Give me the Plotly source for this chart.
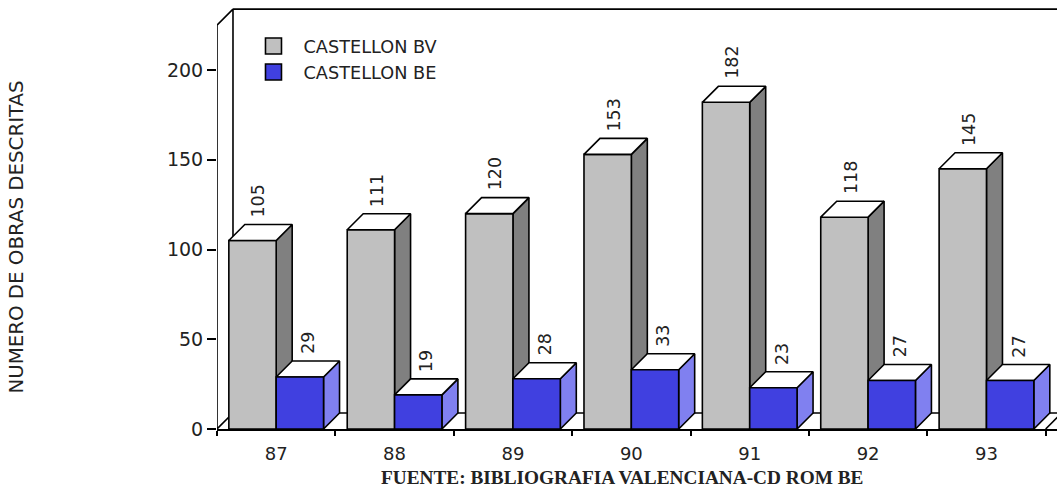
import plotly.graph_objects as go

years = ["87", "88", "89", "90", "91", "92", "93"]
bv = [105, 111, 120, 153, 182, 118, 145]
be = [29, 19, 28, 33, 23, 27, 27]
y_ticks = [0, 50, 100, 150, 200]

W, H = 1057, 488
LEFT, BOTTOM = 216.5, 59
PX_X = 118.45
PX_Y = 1.795
DX = 16 / PX_X
DY = 16 / PX_Y
WALL_TOP = 225
N = len(years)
X_MAX = (W - LEFT) / PX_X
Y_MAX = (H - BOTTOM) / PX_Y
EDGE = dict(color="black", width=1.6)
SANS = "DejaVu Sans"
TXT = "#222222"


def polys(list_of_polys):
    xs, ys = [], []
    for p in list_of_polys:
        for a, b in p + [p[0]]:
            xs.append(a)
            ys.append(b)
        xs.append(None)
        ys.append(None)
    return xs, ys


def faces(values, start):
    front, top, side = [], [], []
    for i, v in enumerate(values):
        a, b = i + start, i + start + 0.4
        front.append([(a, 0), (b, 0), (b, v), (a, v)])
        top.append([(a, v), (b, v), (b + DX, v + DY), (a + DX, v + DY)])
        side.append([(b, 0), (b + DX, DY), (b + DX, v + DY), (b, v)])
    return front, top, side


def add_poly(fig, p, color):
    xs, ys = polys(p)
    fig.add_trace(go.Scatter(x=xs, y=ys, mode="lines", fill="toself", fillcolor=color,
                             line=EDGE, showlegend=False, hoverinfo="skip"))


fig = go.Figure()

# walls and floor
wall_x = [0, DX, DX, 0, 0, None, DX, X_MAX + 1, None, DX, X_MAX + 1, None, N, N + DX]
wall_y = [0, DY, WALL_TOP + DY, WALL_TOP, 0, None, WALL_TOP + DY, WALL_TOP + DY, None, DY, DY, None, 0, DY]
fig.add_trace(go.Scatter(x=wall_x, y=wall_y, mode="lines", line=EDGE, showlegend=False, hoverinfo="skip"))

bv_front, bv_top, bv_side = faces(bv, 0.1)
be_front, be_top, be_side = faces(be, 0.5)
add_poly(fig, bv_side, "#808080")
add_poly(fig, bv_front, "#C0C0C0")
add_poly(fig, bv_top, "#FFFFFF")
add_poly(fig, be_side, "#8080F0")
add_poly(fig, be_top, "#FFFFFF")
add_poly(fig, be_front, "#4040E0")

# legend entries
for name, color in (("CASTELLON BV", "#C0C0C0"), ("CASTELLON BE", "#4040E0")):
    fig.add_trace(go.Scatter(x=[None], y=[None], mode="markers", name=name, legendgroup=name,
                             marker=dict(symbol="square", size=16, color=color,
                                         line=dict(color="black", width=1.6))))

plot_w, plot_h = W - LEFT, H - BOTTOM


def px(x):
    return (x - LEFT) / plot_w


def py(y):
    return (H - BOTTOM - y) / plot_h


annotations = []
for i in range(N):
    for v, start, xs in ((bv[i], 0.3, 6), (be[i], 0.7, 8)):
        annotations.append(dict(x=i + start, y=v + DY, xref="x", yref="y", text=str(v), showarrow=False,
                                textangle=-90, xanchor="center", yanchor="bottom", xshift=xs, yshift=5,
                                font=dict(family=SANS, size=17.5, color=TXT)))
annotations.append(dict(x=px(15), y=py(237), xref="paper", yref="paper", text="NUMERO DE OBRAS DESCRITAS",
                        showarrow=False, textangle=-90, xanchor="center", yanchor="middle",
                        font=dict(family=SANS, size=19.8, color=TXT)))
annotations.append(dict(x=px(622), y=py(477), xref="paper", yref="paper",
                        text="<b>FUENTE: BIBLIOGRAFIA VALENCIANA-CD ROM BE</b>", xanchor="center", yanchor="middle",
                        showarrow=False, font=dict(family="Liberation Serif", size=19.3, color=TXT)))

fig.update_layout(
    width=W, height=H, margin=dict(l=LEFT, r=0, t=0, b=BOTTOM, autoexpand=False),
    plot_bgcolor="white", paper_bgcolor="white", hovermode=False,
    annotations=annotations,
    legend=dict(x=px(243), y=py(28), xanchor="left", yanchor="top",
                bgcolor="rgba(0,0,0,0)", itemwidth=50, tracegroupgap=18, traceorder="normal",
                font=dict(family=SANS, size=17.7, color=TXT)),
    xaxis=dict(range=[0, X_MAX], tickmode="array", tickvals=[i + 0.5 for i in range(N)], ticktext=years,
               ticks="", showgrid=False, zeroline=False, showline=True, linecolor="black", linewidth=1.8,
               ticklabelstandoff=7, tickfont=dict(family=SANS, size=18, color=TXT),
               minor=dict(tickmode="array", tickvals=list(range(N + 1)), ticks="outside", ticklen=5,
                          tickcolor="black", tickwidth=1.5, showgrid=False)),
    yaxis=dict(range=[0, Y_MAX], tickmode="array", tickvals=y_ticks, ticks="outside", ticklen=9,
               tickcolor="black", tickwidth=1.5, showgrid=False, zeroline=False, showline=False,
               tickfont=dict(family=SANS, size=19, color=TXT)),
)

fig.write_html("out.html", config={"displayModeBar": False},
               post_script="document.body.style.margin='0';document.body.style.overflow='hidden';")
